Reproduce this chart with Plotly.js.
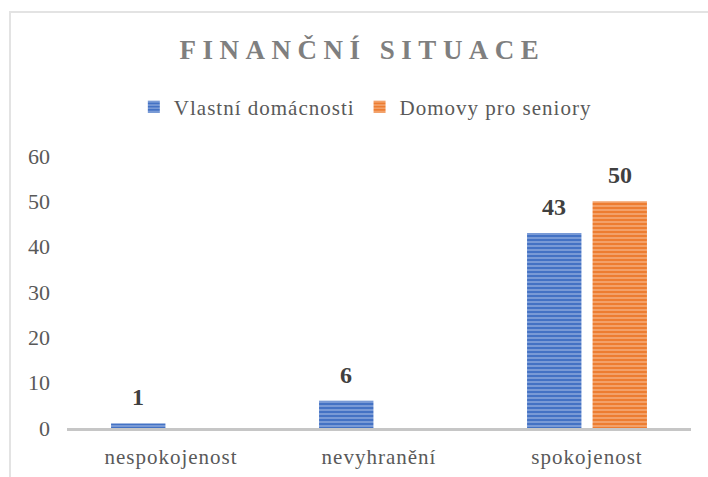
<!DOCTYPE html>
<html>
<head>
<meta charset="utf-8">
<script src="https://cdn.plot.ly/plotly-3.0.1.min.js"></script>
<style>
html,body{margin:0;padding:0;background:#fff;}
#chart{position:absolute;left:0;top:0;width:708px;height:477px;}
#frame{position:absolute;left:9px;top:11px;width:720px;height:480px;border-top:2px solid #e3e3e3;border-left:2px solid #e3e3e3;pointer-events:none;}
</style>
</head>
<body>
<div id="chart"></div>
<div id="frame"></div>
<script>
const categories = ["nespokojenost", "nevyhranění", "spokojenost"];
const seriesNames = ["Vlastní domácnosti", "Domovy pro seniory"];
const vlastni = [1, 6, 43];
const domovy = [0, 0, 50];
const yTicks = [0, 10, 20, 30, 40, 50, 60];

const serif = "Liberation Serif";
const blue = "#4472C4", orange = "#ED7D31";
const spaced = (t, px) => '<span style="letter-spacing:' + px + 'px">' + t + '</span>';

function barTrace(name, vals, col, light) {
  return {
    type: "bar", name: spaced(name, 1), x: categories, y: vals,
    marker: {color: col, line: {width: 0},
      pattern: {shape: "-", fgcolor: light, bgcolor: col, size: 4, solidity: 0.3}},
    hoverinfo: "none"
  };
}

const data = [
  barTrace(seriesNames[0], vlastni, blue, "#9db5e3"),
  barTrace(seriesNames[1], domovy, orange, "#f7b98f")
];

const half = 0.1575;
const annotations = [];
[vlastni, domovy].forEach((vals, s) => {
  vals.forEach((v, i) => {
    if (v > 0) annotations.push({
      x: i + (s === 0 ? -half : half), y: v, xref: "x", yref: "y",
      text: "<b>" + v + "</b>", showarrow: false, yanchor: "bottom", yshift: 11,
      font: {family: serif, size: 24, color: "#404040"}
    });
  });
});

const layout = {
  width: 708, height: 477,
  margin: {l: 67, r: 17, t: 156, b: 49},
  paper_bgcolor: "#fff", plot_bgcolor: "#fff",
  barmode: "group", bargap: 0.37, bargroupgap: 0.17,
  title: {
    text: spaced("FINANČNÍ SITUACE", 6.5),
    font: {family: serif, size: 27, color: "#7f7f7f", weight: "bold"},
    x: 0.512, xanchor: "center", yref: "container", y: 1 - 50/477, yanchor: "middle"
  },
  showlegend: true,
  legend: {
    orientation: "h", x: 0.516, xanchor: "center", xref: "container",
    y: 1 - 107/477, yref: "container", yanchor: "middle",
    font: {family: serif, size: 21, color: "#595959"}, itemwidth: 30, traceorder: "normal"
  },
  xaxis: {
    type: "category", showline: true, linecolor: "#c6c6c6", linewidth: 3,
    tickvals: categories, ticktext: categories.map(c => spaced(c, 1)),
    ticks: "", showgrid: false, zeroline: false,
    tickfont: {family: serif, size: 21, color: "#595959"}, ticklabelstandoff: 8
  },
  yaxis: {
    range: [0, 60], tickvals: yTicks, ticktext: yTicks.map(String),
    showgrid: false, zeroline: false, showline: false, ticks: "",
    tickfont: {family: serif, size: 22, color: "#595959"}, ticklabelstandoff: 16
  },
  annotations: annotations
};

Plotly.newPlot("chart", data, layout, {displayModeBar: false, staticPlot: true});
</script>
</body>
</html>
